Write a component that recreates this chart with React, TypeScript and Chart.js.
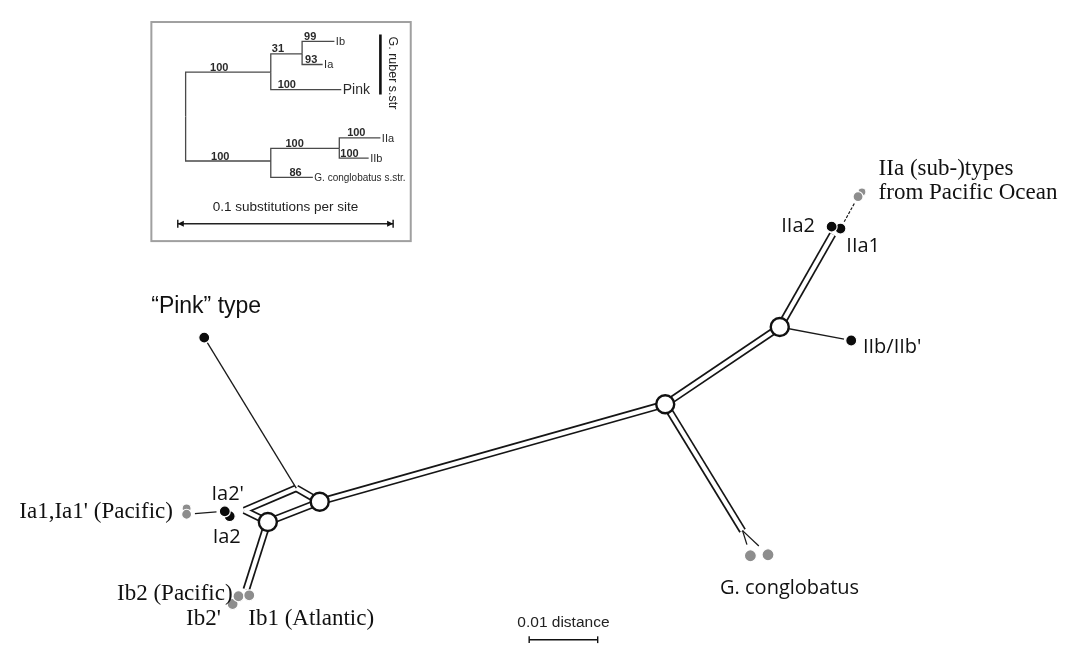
import React, { useEffect, useRef } from "react";
import { Chart, registerables } from "chart.js";

Chart.register(...registerables);

const W = 1075;
const H = 654;

// ---------------- Main splits network ----------------
// internal (split) nodes of the network, in drawing-space units
const splitNodeIds = ["A", "B", "C", "D", "J", "Ia", "Ib", "IIa", "Gc"];
const splitNodeX = [315, 262, 668, 785, 291, 238, 240, 839, 747];
const splitNodeY = [508, 529, 407, 327, 494, 517, 599, 231, 538];
// parallel-edge splits
const splitEdges: [string, string][] = [
  ["J", "A"], ["J", "Ia"], ["Ia", "B"], ["B", "A"], ["A", "C"],
  ["C", "D"], ["D", "IIa"], ["C", "Gc"], ["B", "Ib"],
];
// hub nodes drawn as open circles
const hubNodes = ["A", "B", "C", "D"];

// sampled genotypes (drawing order: later on top)
const sampleIds = ["Pink", "Ia2", "Ia2'", "Ia1'", "Ia1", "Ib2'", "Ib2", "Ib1", "Gc1", "Gc2", "IIa1", "IIa2", "IIaP'", "IIaP", "IIb"];
const sampleX = [197, 223, 218, 179, 179, 226, 232, 243, 755, 773, 847, 838, 869, 865, 858];
const sampleY = [338, 523, 518, 515, 521, 614, 606, 605, 564, 563, 225, 223, 187, 192, 341];
const sampleSource = ["this", "this", "this", "pacific", "pacific", "pacific", "pacific", "other", "other", "other", "this", "this", "pacific", "pacific", "this"];
const sampleSize = [5.5, 5.5, 5.5, 4.5, 5, 5.5, 5.5, 5.5, 6, 6, 5.5, 5.5, 4, 5, 5.5];

// single (terminal) edges
const leafEdges: [string, string][] = [
  ["J", "Pink"], ["Ia1", "Ia2'"], ["D", "IIb"], ["Gc", "Gc1"], ["Gc", "Gc2"],
];
const leafGap = [0, 3, 2, 6, 7];
const dashedEdges: [string, string][] = [["IIaP", "IIa1"]];

// network labels
const netLabelText = ["“Pink” type", "Ia1,Ia1' (Pacific)", "Ia2'", "Ia2", "Ib2 (Pacific)", "Ib2'", "Ib1 (Atlantic)", "G. conglobatus", "IIa (sub-)types", "from Pacific Ocean", "IIa2", "IIa1", "IIb/IIb'"];
const netLabelX = [199, 165, 221, 220, 226, 214, 242, 724, 886, 886, 821, 853, 870];
const netLabelY = [306, 519, 500, 545, 604, 629, 629, 598, 163, 188, 223, 243, 348];
const netLabelAlign = ["center", "right", "center", "center", "right", "right", "left", "left", "left", "left", "right", "left", "left"];
const netLabelFont = ["arial", "serif", "humanist", "humanist", "serif", "serif", "serif", "humanist", "serif", "serif", "humanist", "humanist", "humanist"];

// network scale bar: 0.01 distance
const netScaleText = "0.01 distance";
const netScaleFrom = [529, 651];
const netScaleTo = [599, 651];

// ---------------- Inset ML tree ----------------
const treeIds = ["root", "ruber", "ab", "Ib", "Ia", "Pink", "cong", "II", "IIa", "IIb", "Gcs"];
const treeParent = ["", "root", "ruber", "ab", "ab", "ruber", "root", "cong", "II", "II", "cong"];
const treeX = [178, 265, 297, 330, 318, 337, 265, 335, 377, 365, 308];
const treeY = [109, 63, 44, 31, 55, 81, 155, 142, 131, 152, 172];
const treeSupport = ["", "100", "31", "99", "93", "100", "100", "100", "100", "100", "86"];
const treeSupportX = [0, 203, 266, 299, 300, 272, 204, 280, 343, 336, 284];
const treeTip = ["", "", "", "Ib", "Ia", "Pink", "", "", "IIa", "IIb", "G. conglobatus s.str."];
const insetBox = [143, 11, 408, 238];
const cladeBar = [377, 24, 377, 86];
const cladeText = "G. ruber s.str";
const treeScaleText = "0.1 substitutions per site";
const treeScaleFrom = [170, 220];
const treeScaleTo = [390, 220];

const FONTS: Record<string, string> = {
  serif: '23px "Liberation Serif", "Times New Roman", serif',
  humanist: '20px "Open Sans", "Noto Sans", sans-serif',
  arial: '23px "Liberation Sans", Arial, sans-serif',
  scale: '15.5px "Liberation Sans", Arial, sans-serif',
};
const SOURCE_COLOR: Record<string, string> = { this: "#0b0b0b", pacific: "#8d8d8d", other: "#8d8d8d" };

function nodePos(id: string): [number, number] {
  let i = splitNodeIds.indexOf(id);
  if (i >= 0) return [splitNodeX[i], splitNodeY[i]];
  i = sampleIds.indexOf(id);
  return [sampleX[i], sampleY[i]];
}

function shorten(a: [number, number], b: [number, number], gapA: number, gapB: number) {
  const dx = b[0] - a[0], dy = b[1] - a[1];
  const L = Math.hypot(dx, dy) || 1;
  return [
    { x: a[0] + (dx / L) * gapA, y: a[1] + (dy / L) * gapA },
    { x: b[0] - (dx / L) * gapB, y: b[1] - (dy / L) * gapB },
  ];
}

function buildDatasets() {
  const ds: any[] = [];
  const line = (data: any[], color: string, width: number, order: number, extra: any = {}) => ({
    data, showLine: true, borderColor: color, borderWidth: width, pointRadius: 0,
    borderCapStyle: "butt", borderJoinStyle: "miter", order, clip: false, ...extra,
  });
  // double (split) edges: black body then white core
  splitEdges.forEach(([a, b]) => {
    const pa = nodePos(a), pb = nodePos(b);
    ds.push(line([{ x: pa[0], y: pa[1] }, { x: pb[0], y: pb[1] }], "#151515", 7.6, 60));
  });
  splitEdges.forEach(([a, b]) => {
    const pa = nodePos(a), pb = nodePos(b);
    ds.push(line([{ x: pa[0], y: pa[1] }, { x: pb[0], y: pb[1] }], "#ffffff", 4.2, 55));
  });
  // terminal edges
  leafEdges.forEach(([a, b], i) => {
    const pa = nodePos(a), pb = nodePos(b);
    const g = leafGap[i];
    const r = sampleSize[sampleIds.indexOf(b)] || 0;
    ds.push(line(shorten(pa, pb, sampleIds.includes(a) ? r + g : 0, r + g), "#1a1a1a", 1.3, 50));
  });
  dashedEdges.forEach(([a, b]) => {
    const pa = nodePos(a), pb = nodePos(b);
    ds.push(line(shorten(pa, pb, 8, 8), "#1a1a1a", 1.2, 50, { borderDash: [3, 1.5] }));
  });
  // network scale bar
  ds.push(line([{ x: netScaleFrom[0], y: netScaleFrom[1] }, { x: netScaleTo[0], y: netScaleTo[1] }], "#111", 1.4, 50));
  // hubs
  ds.push({
    data: hubNodes.map((id) => { const p = nodePos(id); return { x: p[0], y: p[1] }; }),
    pointRadius: 9, pointBackgroundColor: "#fff", pointBorderColor: "#111", pointBorderWidth: 2.4,
    showLine: false, order: 20, clip: false,
  });
  // samples
  ds.push({
    data: sampleIds.map((_, i) => ({ x: sampleX[i], y: sampleY[i] })),
    pointRadius: sampleSize,
    pointBackgroundColor: sampleSource.map((s) => SOURCE_COLOR[s]),
    pointBorderColor: "#fff", pointBorderWidth: 1.2,
    showLine: false, order: 10, clip: false,
  });
  // inset tree (elbow branches)
  treeIds.forEach((id, i) => {
    const p = treeParent[i];
    if (!p) return;
    const j = treeIds.indexOf(p);
    ds.push(line([
      { x: treeX[j], y: treeY[j] }, { x: treeX[j], y: treeY[i] }, { x: treeX[i], y: treeY[i] },
    ], "#4a4a4a", 1.3, 45));
  });
  ds.push(line([{ x: cladeBar[0], y: cladeBar[1] }, { x: cladeBar[2], y: cladeBar[3] }], "#111", 2.6, 45));
  ds.push(line([{ x: treeScaleFrom[0], y: treeScaleFrom[1] }, { x: treeScaleTo[0], y: treeScaleTo[1] }], "#222", 1.4, 45));
  return ds;
}

const annotationPlugin = {
  id: "annotations",
  beforeDatasetsDraw(chart: any) {
    const { ctx, scales } = chart;
    const px = (v: number) => scales.x.getPixelForValue(v);
    const py = (v: number) => scales.y.getPixelForValue(v);
    ctx.save();
    ctx.strokeStyle = "#a0a0a0";
    ctx.lineWidth = 2;
    const x0 = px(insetBox[0]), y0 = py(insetBox[1]), x1 = px(insetBox[2]), y1 = py(insetBox[3]);
    ctx.strokeRect(x0, y0, x1 - x0, y1 - y0);
    ctx.restore();
  },
  afterDatasetsDraw(chart: any) {
    const { ctx, scales } = chart;
    const px = (v: number) => scales.x.getPixelForValue(v);
    const py = (v: number) => scales.y.getPixelForValue(v);
    ctx.save();
    // network labels
    ctx.fillStyle = "#111";
    ctx.textBaseline = "middle";
    netLabelText.forEach((t, i) => {
      ctx.font = FONTS[netLabelFont[i]];
      ctx.textAlign = netLabelAlign[i];
      ctx.fillText(t, px(netLabelX[i]), py(netLabelY[i]));
    });
    // network scale bar text and end ticks
    ctx.font = FONTS.scale;
    ctx.textAlign = "center";
    ctx.fillStyle = "#222";
    ctx.fillText(netScaleText, px((netScaleFrom[0] + netScaleTo[0]) / 2), py(netScaleFrom[1] - 18));
    ctx.strokeStyle = "#111";
    ctx.lineWidth = 1.4;
    [netScaleFrom[0], netScaleTo[0]].forEach((x) => {
      ctx.beginPath();
      ctx.moveTo(px(x), py(netScaleFrom[1] - 3.5));
      ctx.lineTo(px(x), py(netScaleFrom[1] + 3.5));
      ctx.stroke();
    });
    // inset support values
    ctx.fillStyle = "#2a2a2a";
    ctx.textAlign = "left";
    ctx.textBaseline = "alphabetic";
    ctx.font = 'bold 11px "Liberation Sans", Arial, sans-serif';
    treeIds.forEach((_, i) => {
      if (!treeSupport[i]) return;
      ctx.fillText(treeSupport[i], px(treeSupportX[i]), py(treeY[i] - 1.5));
    });
    // inset tip labels
    ctx.textBaseline = "middle";
    treeIds.forEach((_, i) => {
      if (!treeTip[i]) return;
      ctx.font = treeTip[i] === "Pink"
        ? '14px "Liberation Sans", Arial, sans-serif'
        : treeTip[i].length > 5
          ? '10px "Liberation Sans", Arial, sans-serif'
          : '11px "Liberation Sans", Arial, sans-serif';
      ctx.fillText(treeTip[i], px(treeX[i] + 1.5), py(treeY[i] + 1));
    });
    // clade label, rotated
    ctx.save();
    ctx.translate(px(cladeBar[0] + 6), py(cladeBar[1] + 2));
    ctx.rotate(Math.PI / 2);
    ctx.font = '12.5px "Liberation Sans", Arial, sans-serif';
    ctx.textAlign = "left";
    ctx.textBaseline = "bottom";
    ctx.fillStyle = "#222";
    ctx.fillText(cladeText, 0, 0);
    ctx.restore();
    // inset scale bar
    ctx.font = '13.5px "Liberation Sans", Arial, sans-serif';
    ctx.textAlign = "center";
    ctx.textBaseline = "middle";
    ctx.fillStyle = "#222";
    ctx.fillText(treeScaleText, px((treeScaleFrom[0] + treeScaleTo[0]) / 2), py(treeScaleFrom[1] - 17));
    ctx.fillStyle = "#111";
    ctx.strokeStyle = "#111";
    ctx.lineWidth = 1.4;
    [[treeScaleFrom[0], 1], [treeScaleTo[0], -1]].forEach(([x, dir]) => {
      const X = px(x), Y = py(treeScaleFrom[1]);
      ctx.beginPath();
      ctx.moveTo(X, Y - 4);
      ctx.lineTo(X, Y + 4);
      ctx.stroke();
      ctx.beginPath();
      ctx.moveTo(X, Y);
      ctx.lineTo(X + dir * 6, Y - 3);
      ctx.lineTo(X + dir * 6, Y + 3);
      ctx.closePath();
      ctx.fill();
    });
    ctx.restore();
  },
};

export default function App() {
  const ref = useRef<HTMLCanvasElement>(null);
  useEffect(() => {
    document.body.style.margin = "0";
    const canvas = ref.current!;
    const chart = new Chart(canvas, {
      type: "scatter",
      data: { datasets: buildDatasets() },
      options: {
        animation: false,
        responsive: false,
        devicePixelRatio: 1,
        events: [],
        layout: { padding: 0 },
        plugins: { legend: { display: false }, tooltip: { enabled: false }, title: { display: false } },
        scales: {
          x: { type: "linear", min: 0, max: W, display: false },
          y: { type: "linear", min: 0, max: H, reverse: true, display: false },
        },
      } as any,
      plugins: [annotationPlugin],
    });
    return () => chart.destroy();
  }, []);
  return (
    <div style={{ position: "absolute", left: 0, top: 0, width: W, height: H, background: "#fff" }}>
      <canvas ref={ref} width={W} height={H} style={{ display: "block" }} />
    </div>
  );
}
